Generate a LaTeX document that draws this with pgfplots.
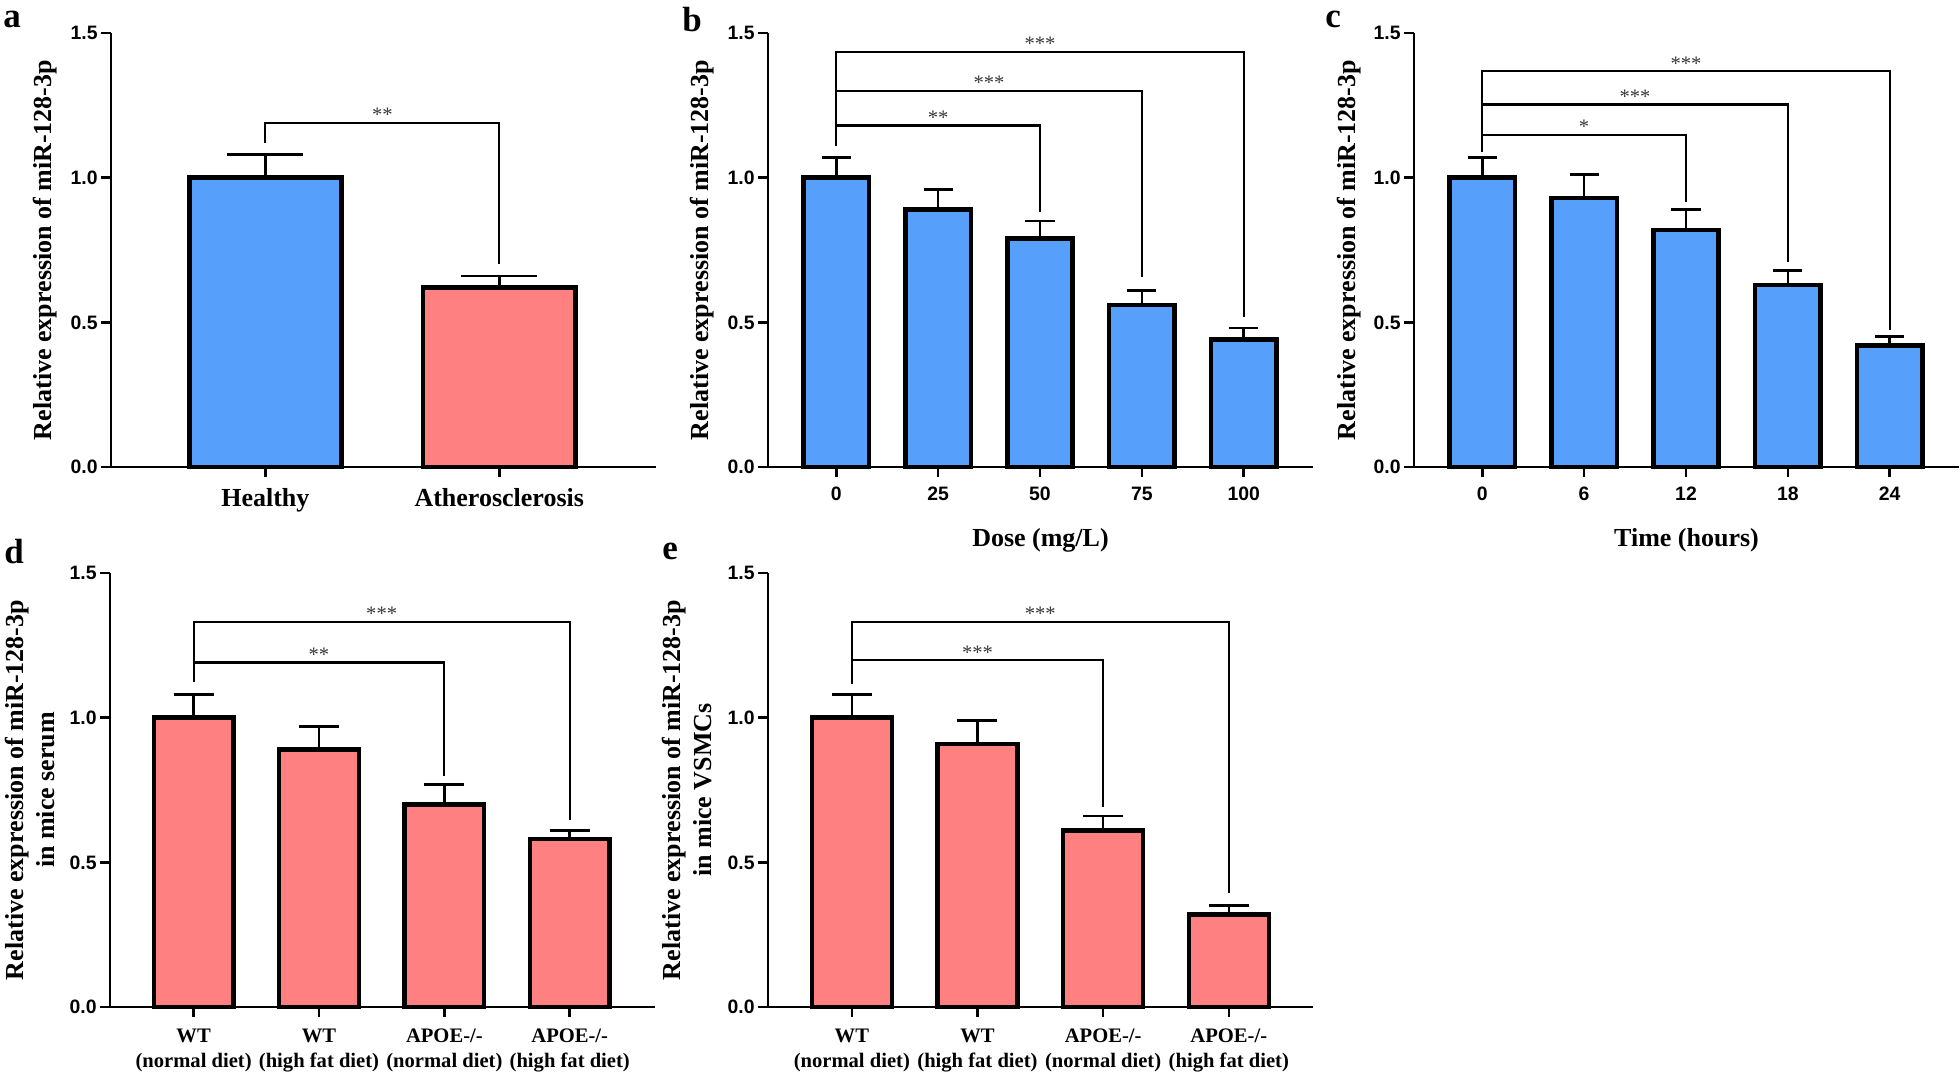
\documentclass[border=0pt]{standalone}
\usepackage{pgfplots}
\pgfplotsset{compat=1.18}
\usepackage{fontspec}
\setmainfont{Liberation Serif}
\setsansfont{Liberation Sans}
\definecolor{barblue}{RGB}{86,160,252}
\definecolor{barred}{RGB}{255,128,128}
\definecolor{starc}{RGB}{55,55,55}
\newcommand{\tickfont}{\sffamily\bfseries\fontsize{9.7}{11}\selectfont}
\newcommand{\labfont}{\bfseries\fontsize{13}{15.6}\selectfont}
\pgfplotsset{
  panel/.style={
    scale only axis, width=272.5pt, height=217pt,
    anchor=south west,
    ymin=0, ymax=1.5, ytick={0,0.5,1,1.5},
    axis x line=bottom, axis y line=left,
    axis line style={line width=1.3pt, -},
    every tick/.style={black, line width=1.3pt},
    major tick length=5pt, tick align=outside,
    clip=false,
    /pgf/number format/fixed, /pgf/number format/fixed zerofill,
    /pgf/number format/precision=1, /pgf/number format/assume math mode=true,
    yticklabel={\pgfmathprintnumber{\tick}},
    yticklabel style={font=\tickfont, inner sep=1.5pt},
    ylabel style={at={(axis description cs:-0.12,0.5)}, anchor=center, font=\labfont, align=center},
    xlabel style={at={(axis description cs:0.5,-0.168)}, anchor=center, font=\labfont},
  },
  bars/.style={ybar, bar shift=0pt, draw=black, line width=2.2pt,
    error bars/y dir=plus, error bars/y explicit,
    error bars/error bar style={line width=1.3pt, black},
    error bars/error mark options={rotate=90, line width=1.3pt, black, mark size=#1}},
}
\tikzset{
  brk/.style={line width=1.1pt, black},
  star/.style={anchor=base, yshift=0.5pt, inner sep=0pt, text=starc, font=\fontsize{10.3}{11}\selectfont},
  letter/.style={anchor=base west, inner sep=0pt, text height=0.5em, font=\bfseries\fontsize{17.5}{18}\selectfont},
}
\begin{document}
\begin{tikzpicture}
\path[use as bounding box] (0,0) rectangle (980pt,536pt);

% ---------- panel a ----------
\begin{axis}[panel, at={(55.5pt,302.5pt)},
  xmin=-0.66, xmax=1.67, xtick={0,1},
  xticklabels={Healthy, Atherosclerosis},
  xticklabel style={font=\labfont, yshift=-2pt},
  ylabel={Relative expression of miR-128-3p}]
\addplot[fill=barblue, bar width=0.65, bars=19pt] coordinates {(0,1.00) +- (0,0.08)};
\addplot[fill=barred, bar width=0.65, bars=19pt] coordinates {(1,0.62) +- (0,0.04)};
\draw[brk] (axis cs:0,1.12) -- (axis cs:0,1.19) -- (axis cs:1,1.19) -- (axis cs:1,0.70);
\node[star] at (axis cs:0.5,1.19) {**};
\end{axis}

% ---------- panel b ----------
\begin{axis}[panel, at={(384pt,302.5pt)},
  xmin=-0.67, xmax=4.68, xtick={0,1,2,3,4},
  xticklabels={0,25,50,75,100},
  xticklabel style={font=\tickfont, yshift=-1.5pt},
  xlabel={Dose (mg/L)},
  ylabel={Relative expression of miR-128-3p}]
\addplot[fill=barblue, bar width=0.64, bars=7.3pt] coordinates {
  (0,1.00) +- (0,0.07)
  (1,0.89) +- (0,0.07)
  (2,0.79) +- (0,0.06)
  (3,0.56) +- (0,0.05)
  (4,0.44) +- (0,0.04)};
\draw[brk] (axis cs:0,1.11) -- (axis cs:0,1.18) -- (axis cs:2,1.18) -- (axis cs:2,0.88);
\draw[brk] (axis cs:0,1.11) -- (axis cs:0,1.30) -- (axis cs:3,1.30) -- (axis cs:3,0.655);
\draw[brk] (axis cs:0,1.11) -- (axis cs:0,1.435) -- (axis cs:4,1.435) -- (axis cs:4,0.52);
\node[star] at (axis cs:1,1.18) {**};
\node[star] at (axis cs:1.5,1.30) {***};
\node[star] at (axis cs:2,1.435) {***};
\end{axis}

% ---------- panel c ----------
\begin{axis}[panel, at={(707pt,302.5pt)},
  xmin=-0.67, xmax=4.68, xtick={0,1,2,3,4},
  xticklabels={0,6,12,18,24},
  xticklabel style={font=\tickfont, yshift=-1.5pt},
  xlabel={Time (hours)},
  ylabel={Relative expression of miR-128-3p}]
\addplot[fill=barblue, bar width=0.64, bars=7.3pt] coordinates {
  (0,1.00) +- (0,0.07)
  (1,0.93) +- (0,0.08)
  (2,0.82) +- (0,0.07)
  (3,0.63) +- (0,0.05)
  (4,0.42) +- (0,0.03)};
\draw[brk] (axis cs:0,1.09) -- (axis cs:0,1.148) -- (axis cs:2,1.148) -- (axis cs:2,0.915);
\draw[brk] (axis cs:0,1.09) -- (axis cs:0,1.253) -- (axis cs:3,1.253) -- (axis cs:3,0.71);
\draw[brk] (axis cs:0,1.09) -- (axis cs:0,1.368) -- (axis cs:4,1.368) -- (axis cs:4,0.475);
\node[star] at (axis cs:1,1.148) {*};
\node[star] at (axis cs:1.5,1.253) {***};
\node[star] at (axis cs:2,1.368) {***};
\end{axis}

% ---------- panel d ----------
\begin{axis}[panel, at={(55pt,32.5pt)},
  xmin=-0.667, xmax=3.68, xtick={0,1,2,3},
  xticklabels={{WT\\(normal diet)},{WT\\(high fat diet)},{APOE-/-\\(normal diet)},{APOE-/-\\(high fat diet)}},
  xticklabel style={align=center, yshift=-2.5pt, font=\bfseries\fontsize{10.3}{12.3}\selectfont},
  ylabel={Relative expression of miR-128-3p\\in mice serum},
  ylabel style={at={(axis description cs:-0.147,0.5)}}]
\addplot[fill=barred, bar width=0.635, bars=10pt] coordinates {
  (0,1.00) +- (0,0.08)
  (1,0.89) +- (0,0.08)
  (2,0.70) +- (0,0.07)
  (3,0.58) +- (0,0.03)};
\draw[brk] (axis cs:0,1.125) -- (axis cs:0,1.191) -- (axis cs:2,1.191) -- (axis cs:2,0.80);
\draw[brk] (axis cs:0,1.125) -- (axis cs:0,1.331) -- (axis cs:3,1.331) -- (axis cs:3,0.647);
\node[star] at (axis cs:1,1.191) {**};
\node[star] at (axis cs:1.5,1.331) {***};
\end{axis}

% ---------- panel e ----------
\begin{axis}[panel, at={(384pt,32.5pt)},
  xmin=-0.667, xmax=3.67, xtick={0,1,2,3},
  xticklabels={{WT\\(normal diet)},{WT\\(high fat diet)},{APOE-/-\\(normal diet)},{APOE-/-\\(high fat diet)}},
  xticklabel style={align=center, yshift=-2.5pt, font=\bfseries\fontsize{10.3}{12.3}\selectfont},
  ylabel={Relative expression of miR-128-3p\\in mice VSMCs},
  ylabel style={at={(axis description cs:-0.148,0.5)}}]
\addplot[fill=barred, bar width=0.635, bars=10pt] coordinates {
  (0,1.00) +- (0,0.08)
  (1,0.91) +- (0,0.08)
  (2,0.61) +- (0,0.05)
  (3,0.32) +- (0,0.03)};
\draw[brk] (axis cs:0,1.116) -- (axis cs:0,1.199) -- (axis cs:2,1.199) -- (axis cs:2,0.69);
\draw[brk] (axis cs:0,1.116) -- (axis cs:0,1.331) -- (axis cs:3,1.331) -- (axis cs:3,0.394);
\node[star] at (axis cs:1,1.199) {***};
\node[star] at (axis cs:1.5,1.331) {***};
\end{axis}

% ---------- panel letters ----------
\node[letter] at (1.5pt,522pt) {a};
\node[letter, text height=0.68em] at (341pt,520pt) {b};
\node[letter] at (662.5pt,522pt) {c};
\node[letter, text height=0.68em] at (2pt,254pt) {d};
\node[letter] at (331pt,256pt) {e};
\end{tikzpicture}
\end{document}
